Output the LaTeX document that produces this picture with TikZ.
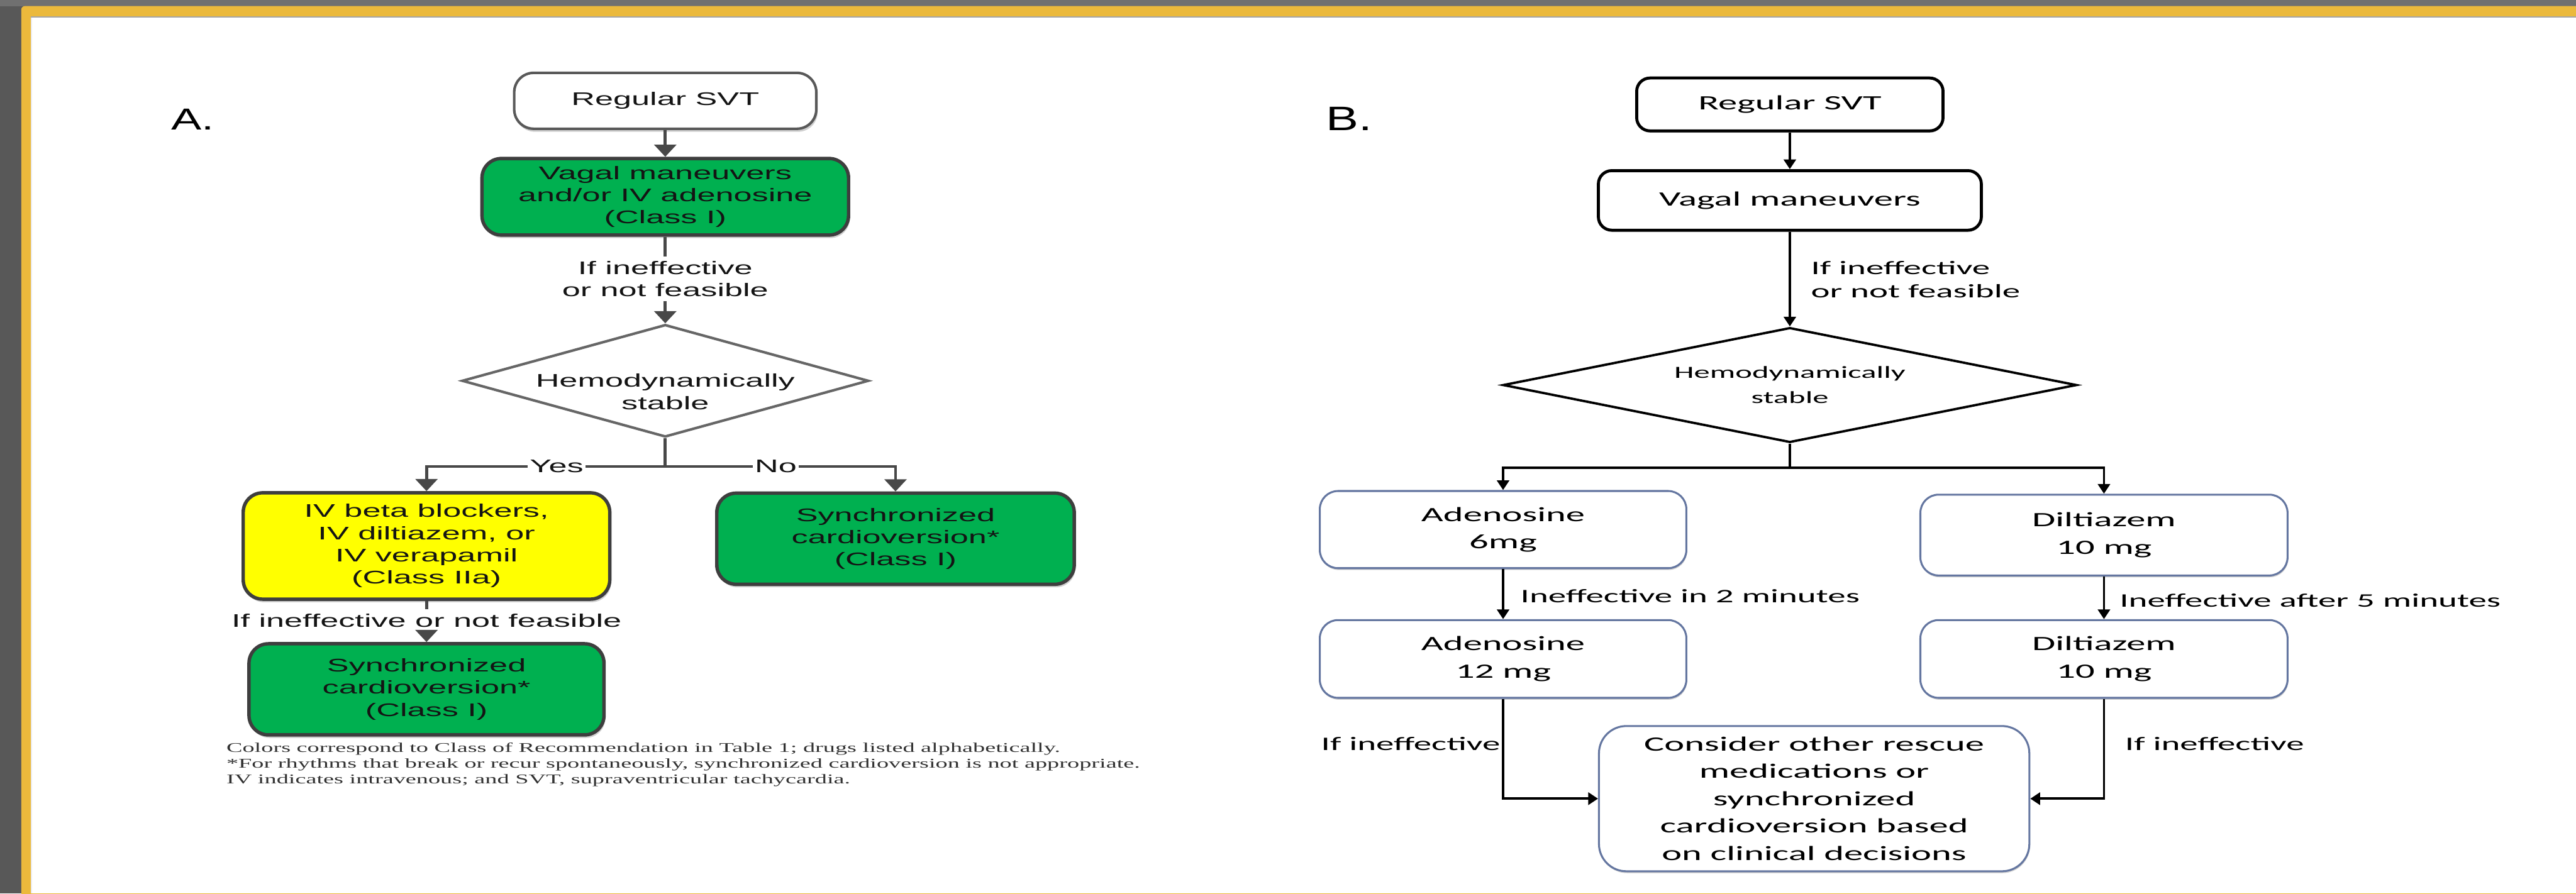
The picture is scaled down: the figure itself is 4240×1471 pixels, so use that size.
\documentclass[tikz,border=0pt]{standalone}
\usepackage{fontspec}
\usetikzlibrary{shapes.geometric,arrows.meta,shadows}
\newfontfamily\fA[FakeStretch=1.8]{Liberation Sans}
\newfontfamily\fB[FakeStretch=1.87]{Carlito}
\newfontfamily\fN[FakeStretch=1.8]{Liberation Serif}
\newfontfamily\fLA[FakeStretch=1.5]{Liberation Sans}
\newfontfamily\fLB[FakeStretch=1.44]{Liberation Sans}
\definecolor{frameyellow}{RGB}{235,185,60}
\definecolor{bggray}{RGB}{88,88,88}
\definecolor{topgray}{RGB}{112,112,112}
\definecolor{boxgreen}{RGB}{0,176,80}
\definecolor{boxyellow}{RGB}{255,255,0}
\definecolor{edgeA}{RGB}{62,62,62}
\definecolor{lineA}{RGB}{72,72,72}
\definecolor{edgeB}{RGB}{100,118,160}
\definecolor{txtA}{RGB}{20,20,20}
\definecolor{noteC}{RGB}{50,50,50}
\tikzset{
  fontA/.style={font=\fA\fontsize{8.54}{10.4}\selectfont},
  fontB/.style={font=\fB\fontsize{9.53}{12.8}\selectfont},
  lblB/.style={font=\fB\fontsize{8.96}{10.8}\selectfont, inner sep=0pt},
  shadowA/.style={drop shadow={shadow xshift=0.02cm, shadow yshift=-0.05cm, fill=black!30, opacity=0.6}},
  shadowB/.style={drop shadow={shadow xshift=0.01cm, shadow yshift=-0.03cm, fill=black!35, opacity=0.5}},
  boxA/.style={rectangle, rounded corners=0.32cm, draw=edgeA, line width=1.6pt, align=center, inner sep=0pt, text=txtA, fontA, shadowA},
  greenbox/.style={boxA, fill=boxgreen},
  yellowbox/.style={boxA, fill=boxyellow},
  whiteboxA/.style={boxA, fill=white, draw=black!65, line width=1.2pt},
  diamA/.style={diamond, draw=black!60, line width=1.2pt, fill=white, inner sep=0pt},
  lblA/.style={fontA, text=txtA, align=center, inner sep=2pt},
  connA/.style={draw=lineA, line width=1.4pt},
  arrA/.style={-{Triangle[width=0.36cm,length=0.2cm]}},
  boxB/.style={rectangle, rounded corners=0.22cm, draw=black, line width=1.4pt, align=center, inner sep=0pt, fill=white, fontB, shadowB},
  boxBl/.style={rectangle, rounded corners=0.3cm, draw=edgeB, line width=0.9pt, align=center, inner sep=0pt, fill=white, fontB, shadowB},
  diamB/.style={diamond, draw=black, line width=1.1pt, fill=white, inner sep=0pt},
  diamBt/.style={align=center, inner sep=0pt, font=\fB\fontsize{7.97}{11.67}\selectfont},
  connB/.style={draw=black, line width=1.1pt},
  arrB/.style={-{Triangle[width=0.2cm,length=0.16cm]}}
}
\begin{document}
\begin{tikzpicture}[x=0.01cm, y=-0.01cm]
\useasboundingbox (0,0) rectangle (4240,1471);
% frame
\fill[bggray] (0,0) rectangle (4240,1471);
\fill[topgray] (0,0) rectangle (4240,10);
\fill[frameyellow, rounded corners=0.06cm] (35,10) rectangle (4300,1520);
\fill[white] (51,27) rectangle (4240,1471);
\fill[black!35] (51,27) rectangle (4240,29);
\fill[black!8] (51,29) rectangle (53,1471);

% ---------------- Panel A ----------------
\node[font=\fLA\fontsize{14.2}{16}\selectfont, inner sep=0pt] (labA) at (317,197) {A.};
\node[whiteboxA, minimum width=4.97cm, minimum height=0.92cm] (a1) at (1095,166) {Regular SVT};
\node[greenbox, minimum width=6.03cm, minimum height=1.26cm] (a2) at (1095,324) {Vagal maneuvers\\and/or IV adenosine\\(Class I)};
\node[lblA] (ifa) at (1095,459) {If ineffective\\or not feasible};
\node[diamA, minimum width=6.69cm, minimum height=1.85cm] (a3) at (1095,627) {};
\node[lblA] (a3t) at (1095,645) {Hemodynamically\\stable};
\coordinate (ab) at (1095,768);
\node[yellowbox, minimum width=6.03cm, minimum height=1.75cm] (a4) at (702,899) {IV beta blockers,\\IV diltiazem, or\\IV verapamil\\(Class IIa)};
\node[greenbox, minimum width=5.88cm, minimum height=1.50cm] (a5) at (1474,887) {Synchronized\\cardioversion*\\(Class I)};
\node[lblA] (fa2) at (702,1022) {If ineffective or not feasible};
\node[greenbox, minimum width=5.84cm, minimum height=1.50cm] (a6) at (702,1135) {Synchronized\\cardioversion*\\(Class I)};
\node[font=\fN\fontsize{6.26}{7.26}\selectfont, text=noteC, align=left, anchor=west, inner sep=0pt] (note) at (372,1259)
  {Colors correspond to Class of Recommendation in Table 1; drugs listed alphabetically.\\
   *For rhythms that break or recur spontaneously, synchronized cardioversion is not appropriate.\\
   IV indicates intravenous; and SVT, supraventricular tachycardia.};

\draw[connA, arrA] (a1) -- (a2);
\draw[connA] (a2) -- (ifa);
\draw[connA, arrA] (ifa) -- (a3);
\draw[connA] (a3.south) -- (ab);
\draw[connA, arrA] (ab) -| node[pos=0.2275, lblA, fill=white, inner sep=1pt] (yes) {Yes} (a4.north);
\draw[connA, arrA] (ab) -| node[pos=0.24, lblA, fill=white, inner sep=1pt] (no) {No} (a5.north);
\draw[connA] (a4) -- (fa2);
\draw[connA, arrA] (fa2) -- (a6);

% ---------------- Panel B ----------------
\node[font=\fLB\fontsize{15.9}{18}\selectfont, inner sep=0pt] (labB) at (2221,196) {B.};
\node[boxB, minimum width=5.04cm, minimum height=0.87cm] (b1) at (2946,172) {Regular SVT};
\node[boxB, minimum width=6.30cm, minimum height=0.98cm] (b2) at (2946,330) {Vagal maneuvers};
\node[diamB, minimum width=9.44cm, minimum height=1.89cm] (b3) at (2946,634) {};
\node[diamBt] (b3t) at (2946,634) {Hemodynamically\\stable};
\node[lblB, align=left, anchor=west] (ifb) at (2980,460) {If ineffective\\or not feasible};
\coordinate (bb) at (2946,770);
\node[boxBl, minimum width=6.03cm, minimum height=1.27cm] (b4) at (2474,872) {Adenosine\\6mg};
\node[boxBl, minimum width=6.04cm, minimum height=1.33cm] (b5) at (3463,881) {Diltiazem\\10 mg};
\node[boxBl, minimum width=6.03cm, minimum height=1.28cm] (b6) at (2474,1085) {Adenosine\\12 mg};
\node[boxBl, minimum width=6.04cm, minimum height=1.28cm] (b7) at (3463,1085) {Diltiazem\\10 mg};
\node[boxBl, rounded corners=0.45cm, minimum width=7.08cm, minimum height=2.39cm] (b8) at (2986,1315) {Consider other rescue\\medications or\\synchronized\\cardioversion based\\on clinical decisions};
\node[lblB, anchor=west] (l2m) at (2502,981) {Ineffective in 2 minutes};
\node[lblB, anchor=west] (l5m) at (3488,989) {Ineffective after 5 minutes};
\node[lblB, anchor=east] (lil) at (2470,1225) {If ineffective};
\node[lblB, anchor=west] (lir) at (3497,1225) {If ineffective};

\draw[connB, arrB] (b1) -- (b2);
\draw[connB, arrB] (b2) -- (b3);
\draw[connB] (b3.south) -- (bb);
\draw[connB, arrB] (bb) -| (b4.north);
\draw[connB, arrB] (bb) -| (b5.north);
\draw[connB, arrB] (b4) -- (b6);
\draw[connB, arrB] (b5) -- (b7);
\draw[connB, arrB] (b6.south) |- (b8.west);
\draw[connB, arrB] (b7.south) |- (b8.east);
\end{tikzpicture}
\end{document}
